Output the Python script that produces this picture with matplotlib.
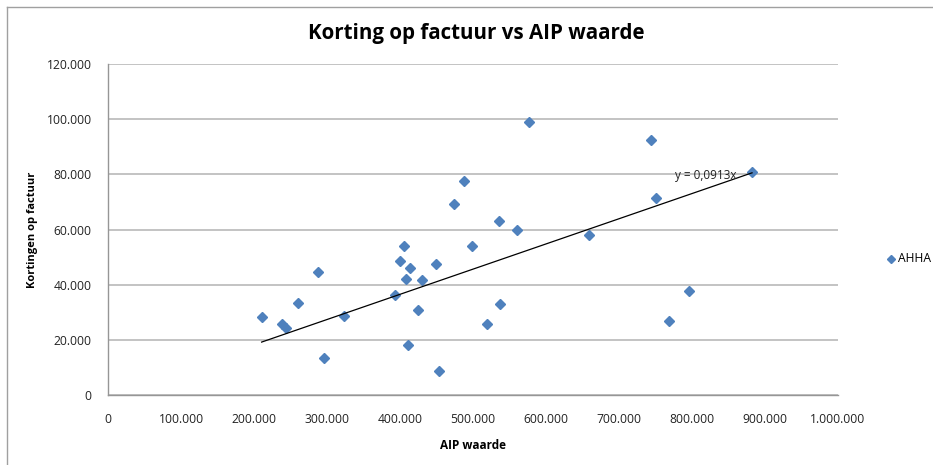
import matplotlib
matplotlib.use("Agg")
import matplotlib.pyplot as plt
from matplotlib.ticker import FuncFormatter, MultipleLocator
from matplotlib.lines import Line2D

# ---- data ----
aip_waarde = [210100, 237500, 243400, 259500, 287700, 295100, 322900, 392700,
              405100, 400000, 413300, 407800, 429300, 448900, 423800, 410100,
              453400, 473200, 486800, 498200, 535200, 559900, 536600, 519200,
              576300, 743400, 882200, 750300, 658100, 795500, 768100]
korting = [28300, 25600, 24200, 33300, 44500, 13500, 28700, 36200,
           54000, 48700, 45900, 41900, 41700, 47400, 30700, 18100,
           8700, 69300, 77700, 53900, 63200, 59900, 32900, 25700,
           98800, 92500, 80800, 71300, 58000, 37700, 26800]
series_name = "AHHA"
trend_slope = 0.0913
trend_label = "y = 0,0913x"
title = "Korting op factuur vs AIP waarde"
xlabel = "AIP waarde"
ylabel = "Kortingen op factuur"

W, H = 933, 465
fig = plt.figure(figsize=(W / 100, H / 100), dpi=100)
plt.rcParams['font.family'] = ['Open Sans', 'DejaVu Sans']

# axes placement in pixels
L, R, T, B = 108.3, 838.0, 64.0, 395.0
ax = fig.add_axes([L / W, 1 - B / H, (R - L) / W, (B - T) / H])

blue = '#4F81BD'
grid_c = '#B3B3B3'
axis_c = '#969696'

ax.plot(aip_waarde, korting, linestyle='none', marker='D', markersize=5.2,
        color=blue, markeredgecolor=blue, zorder=3)

xmin, xmax = min(aip_waarde), max(aip_waarde)
ax.plot([xmin, xmax], [trend_slope * xmin, trend_slope * xmax], color='black',
        linewidth=0.9, zorder=4)
t_tr = ax.text(776600, 79700, trend_label, fontsize=8.3, va='center', ha='left',
               color='#222222', zorder=5)

ax.set_xlim(0, 1000000)
ax.set_ylim(0, 120000)
ax.xaxis.set_major_locator(MultipleLocator(100000))
ax.yaxis.set_major_locator(MultipleLocator(20000))

def dotfmt(v, pos):
    return f"{int(round(v)):,}".replace(",", ".")

ax.xaxis.set_major_formatter(FuncFormatter(dotfmt))
ax.yaxis.set_major_formatter(FuncFormatter(dotfmt))
tick_fs = 8.7
ax.tick_params(length=0, labelsize=tick_fs, colors='#222222')
ax.tick_params(axis='x', pad=13)
ax.tick_params(axis='y', pad=12)

ax.grid(axis='y', color=grid_c, linewidth=1.1)
ax.set_axisbelow(True)
for s in ['top', 'right']:
    ax.spines[s].set_visible(False)
for s in ['left', 'bottom']:
    ax.spines[s].set_color(axis_c)
    ax.spines[s].set_linewidth(1.0)

# texts
t_title = fig.text(476 / W, 1 - 33 / H, title, ha='center', va='center',
                   fontsize=13.5, fontweight='bold', color='black')
t_x = fig.text(473 / W, 1 - 445 / H, xlabel, ha='center', va='center',
               fontsize=7.5, fontweight='bold', color='black')
t_y = fig.text(33 / W, 1 - 230 / H, ylabel, ha='center', va='center',
               fontsize=7.5, fontweight='bold', rotation=90, color='black')

# legend
fig.add_artist(Line2D([891 / W], [1 - 259 / H], marker='D', markersize=4.5,
                      color=blue, linestyle='none', transform=fig.transFigure))
t_leg = fig.text(898 / W, 1 - 259 / H, series_name, ha='left', va='center',
                 fontsize=7.5, color='black')

# fit text widths to the reference
fig.canvas.draw()
r = fig.canvas.get_renderer()
for t, target in [(t_title, 337), (t_x, 66), (t_leg, 33), (t_tr, 62)]:
    w = t.get_window_extent(r).width
    t.set_fontsize(t.get_fontsize() * target / w)
h = t_y.get_window_extent(r).height
t_y.set_fontsize(t_y.get_fontsize() * 115 / h)
ylab = [l for l in ax.get_yticklabels() if l.get_text() == "120.000"]
if ylab:
    w = ylab[0].get_window_extent(r).width
    tick_fs = tick_fs * 45 / w
    ax.tick_params(labelsize=tick_fs)

# chart frame
fig.add_artist(Line2D([7.3 / W, 7.3 / W], [0, 1 - 7.3 / H], color='#A0A0A0',
                      linewidth=1.0, transform=fig.transFigure))
fig.add_artist(Line2D([7.3 / W, 1], [1 - 7.3 / H, 1 - 7.3 / H], color='#A0A0A0',
                      linewidth=1.0, transform=fig.transFigure))

fig.savefig('out.png', dpi=100)
